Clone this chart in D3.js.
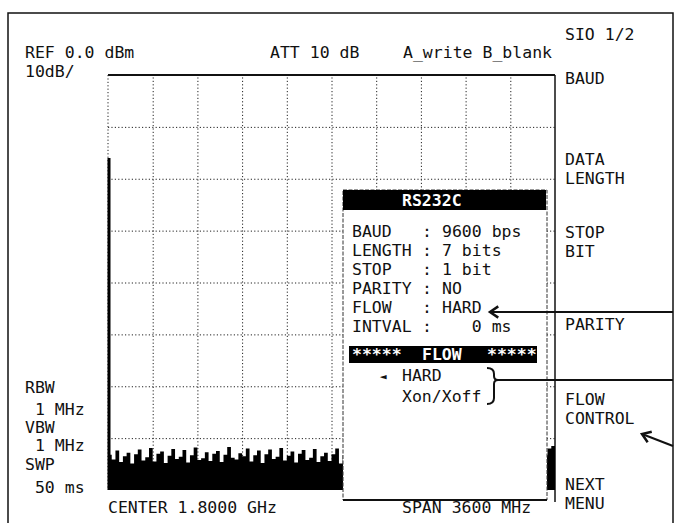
<!DOCTYPE html>
<html>
<head>
<meta charset="utf-8">
<script src="https://cdn.jsdelivr.net/npm/d3@7"></script>
<style>
  body { margin: 0; background: #fff; }
  text { font-family: "DejaVu Sans Mono", "Liberation Mono", monospace; font-size: 16.5px; fill: #111; }
</style>
</head>
<body>
<script>
// analyzer settings / readouts
const headerLeft = ['REF 0.0 dBm', '10dB/'];
const headerMid = 'ATT 10 dB';
const headerRight = 'A_write B_blank';
const bwLabels = ['RBW', ' 1 MHz', 'VBW', ' 1 MHz', 'SWP', ' 50 ms'];
const centerLabel = 'CENTER 1.8000 GHz';
const spanLabel = 'SPAN 3600 MHz';
const softkeys = [['SIO 1/2'], ['BAUD'], ['DATA', 'LENGTH'], ['STOP', 'BIT'], ['PARITY'], ['FLOW', 'CONTROL'], ['NEXT', 'MENU']];

// RS232C popup
const popupTitle = 'RS232C';
const popupRows = [
  ['BAUD', '9600 bps'],
  ['LENGTH', '7 bits'],
  ['STOP', '1 bit'],
  ['PARITY', 'NO'],
  ['FLOW', 'HARD'],
  ['INTVAL', '   0 ms']
];
const flowOptions = ['HARD', 'Xon/Xoff'];

// graticule
const spanMHz = [0, 3600];
const refLevels = [-80, 0];
const gridFreqs = [360, 720, 1080, 1440, 1800, 2160, 2520, 2880, 3240];
const gridLevels = [-70, -60, -50, -40, -30, -20, -10];

// trace: LO feedthrough at 0 Hz and noise floor, sweep step 30 MHz
const loFreq = 0, loLevel = -16;
const sweepStep = 30;
const noise = [
  -73.2,-74.1,-72.4,-74.6,-73.5,-72.8,-74.9,-73.1,-72.2,-74.3,
  -73.7,-71.9,-74.5,-73.0,-72.6,-74.8,-73.4,-72.1,-74.0,-73.6,
  -72.3,-74.7,-73.3,-71.8,-74.2,-73.9,-72.7,-74.4,-73.0,-72.5,
  -74.6,-73.2,-71.7,-73.8,-74.1,-72.9,-73.5,-72.0,-74.5,-73.3,
  -72.4,-74.8,-73.1,-72.2,-74.0,-73.6,-71.9,-74.3,-73.4,-72.6,
  -74.7,-73.0,-72.3,-74.2,-73.8,-72.1,-74.6,-73.5,-72.8,-74.4,
  -73.1,-72.0,-74.9,-73.3,-72.5,-74.1,-73.7,-71.8,-74.5,-73.2,
  -72.7,-74.0,-73.6,-72.2,-74.8,-73.4,-72.9,-74.3,-73.0,-72.4,
  -74.6,-73.5,-71.9,-74.2,-73.1,-72.6,-74.7,-73.9,-72.3,-74.1,
  -73.3,-72.0,-74.4,-73.7,-72.8,-74.9,-73.2,-72.5,-74.0,-73.6,
  -72.1,-74.5,-73.4,-72.7,-74.2,-73.0,-72.4,-74.8,-73.5,-72.2,
  -74.3,-73.1,-72.9,-74.6,-73.8,-72.6,-74.1,-73.3,-72.0,-71.5,-71.2
];

const width = 675, height = 523;
const plotL = 108, plotR = 555, plotT = 75, plotB = 490;

const svg = d3.select('body').append('svg')
  .attr('width', width)
  .attr('height', height);

const x = d3.scaleLinear().domain(spanMHz).range([plotL, plotR]);
const y = d3.scaleLinear().domain(refLevels).range([plotB, plotT]);

// outer frame
svg.append('path')
  .attr('d', 'M8,523 V13 H673 V523')
  .attr('fill', 'none').attr('stroke', '#111').attr('stroke-width', 1.5);

// dotted grid via axes
const gx = svg.append('g')
  .attr('transform', 'translate(0,' + plotB + ')')
  .call(d3.axisBottom(x).tickValues(gridFreqs).tickSize(-(plotB - plotT)).tickFormat(''));
const gy = svg.append('g')
  .attr('transform', 'translate(' + plotL + ',0)')
  .call(d3.axisLeft(y).tickValues(gridLevels).tickSize(-(plotR - plotL)).tickFormat(''));
[gx, gy].forEach(g => {
  g.select('.domain').remove();
  g.selectAll('.tick line')
    .attr('stroke', '#222').attr('stroke-width', 1).attr('stroke-dasharray', '1.2,2.2');
});

// graticule border
svg.append('line').attr('x1', plotL).attr('x2', plotR).attr('y1', plotT).attr('y2', plotT)
  .attr('stroke', '#111').attr('stroke-width', 2);
svg.append('line').attr('x1', plotR).attr('x2', plotR).attr('y1', plotT).attr('y2', plotB + 12)
  .attr('stroke', '#111').attr('stroke-width', 1.5);
svg.append('line').attr('x1', plotL).attr('x2', plotL).attr('y1', plotT).attr('y2', plotB)
  .attr('stroke', '#222').attr('stroke-width', 1).attr('stroke-dasharray', '1.2,2.2');

// noise floor trace
const area = d3.area()
  .x((d, i) => x(i * sweepStep))
  .y0(plotB)
  .y1(d => y(d))
  .curve(d3.curveStepAfter);
svg.append('path')
  .datum(noise)
  .attr('d', area)
  .attr('fill', '#000');

// LO feedthrough
svg.append('line')
  .attr('x1', x(loFreq) + 1).attr('x2', x(loFreq) + 1)
  .attr('y1', y(loLevel)).attr('y2', plotB)
  .attr('stroke', '#000').attr('stroke-width', 3);

// header texts
svg.append('text').attr('x', 25).attr('y', 58).text(headerLeft[0]);
svg.append('text').attr('x', 25).attr('y', 77).text(headerLeft[1]);
svg.append('text').attr('x', 270).attr('y', 58).text(headerMid);
svg.append('text').attr('x', 403).attr('y', 58).text(headerRight);

// bandwidth readouts
const bwY = [393, 415, 433, 451, 470, 493];
bwLabels.forEach((t, i) => {
  svg.append('text').attr('x', 25).attr('y', bwY[i]).attr('xml:space', 'preserve').text(t);
});

svg.append('text').attr('x', 108).attr('y', 513).text(centerLabel);
svg.append('text').attr('x', 402).attr('y', 513).text(spanLabel);

// softkey menu
const keyY = [40, 84, 165, 238, 330, 405, 490];
softkeys.forEach((lines, i) => {
  lines.forEach((t, j) => {
    svg.append('text').attr('x', 565).attr('y', keyY[i] + j * 19).text(t);
  });
});

// popup window
const pop = svg.append('g');
pop.append('rect')
  .attr('x', 343).attr('y', 190).attr('width', 204).attr('height', 310)
  .attr('fill', '#fff').attr('stroke', '#333').attr('stroke-width', 1)
  .attr('stroke-dasharray', '4,1.5');
pop.append('line').attr('x1', 343).attr('x2', 547).attr('y1', 500).attr('y2', 500)
  .attr('stroke', '#111').attr('stroke-width', 2);
pop.append('rect').attr('x', 343).attr('y', 190).attr('width', 203).attr('height', 20).attr('fill', '#000');
pop.append('text').attr('x', 402).attr('y', 206).attr('font-weight', 'bold')
  .style('fill', '#fff').text(popupTitle);

popupRows.forEach((r, i) => {
  const yy = 237 + i * 19;
  pop.append('text').attr('x', 352).attr('y', yy).text(r[0]);
  pop.append('text').attr('x', 422).attr('y', yy).text(':');
  pop.append('text').attr('x', 442).attr('y', yy).attr('xml:space', 'preserve').text(r[1]);
});

pop.append('rect').attr('x', 349).attr('y', 346).attr('width', 188).attr('height', 17).attr('fill', '#000');
[['*****', 352], ['FLOW', 422], ['*****', 487]].forEach(d => {
  pop.append('text').attr('x', d[1]).attr('y', 360).attr('font-weight', 'bold')
    .style('fill', '#fff').text(d[0]);
});

pop.append('text').attr('x', 380).attr('y', 380).style('font-size', '11px').text('◄');
flowOptions.forEach((t, i) => {
  pop.append('text').attr('x', 402).attr('y', 381 + i * 21).text(t);
});

// callout lines and arrows
function chevron(tx, ty, fx, fy) {
  const a = Math.atan2(fy - ty, fx - tx), L = 10, s = 0.6;
  return 'M' + (tx + L * Math.cos(a - s)) + ',' + (ty + L * Math.sin(a - s)) +
    ' L' + tx + ',' + ty +
    ' L' + (tx + L * Math.cos(a + s)) + ',' + (ty + L * Math.sin(a + s));
}
const ink = { fill: 'none', stroke: '#111', 'stroke-width': 2 };
function stroke(sel) { Object.keys(ink).forEach(k => sel.attr(k, ink[k])); return sel; }

stroke(svg.append('line').attr('x1', 673).attr('y1', 312).attr('x2', 490).attr('y2', 312));
stroke(svg.append('path').attr('d', chevron(490, 312, 673, 312))).attr('stroke-width', 2.5);

stroke(svg.append('path')
  .attr('d', 'M487,368 Q494,368 494,374 L494,376 Q494,380 498,380 Q494,380 494,384 L494,398 Q494,404 487,404'));
stroke(svg.append('line').attr('x1', 498).attr('y1', 380).attr('x2', 673).attr('y2', 380));

stroke(svg.append('line').attr('x1', 673).attr('y1', 446).attr('x2', 642).attr('y2', 434));
stroke(svg.append('path').attr('d', chevron(642, 434, 673, 446))).attr('stroke-width', 2.5);
</script>
</body>
</html>
